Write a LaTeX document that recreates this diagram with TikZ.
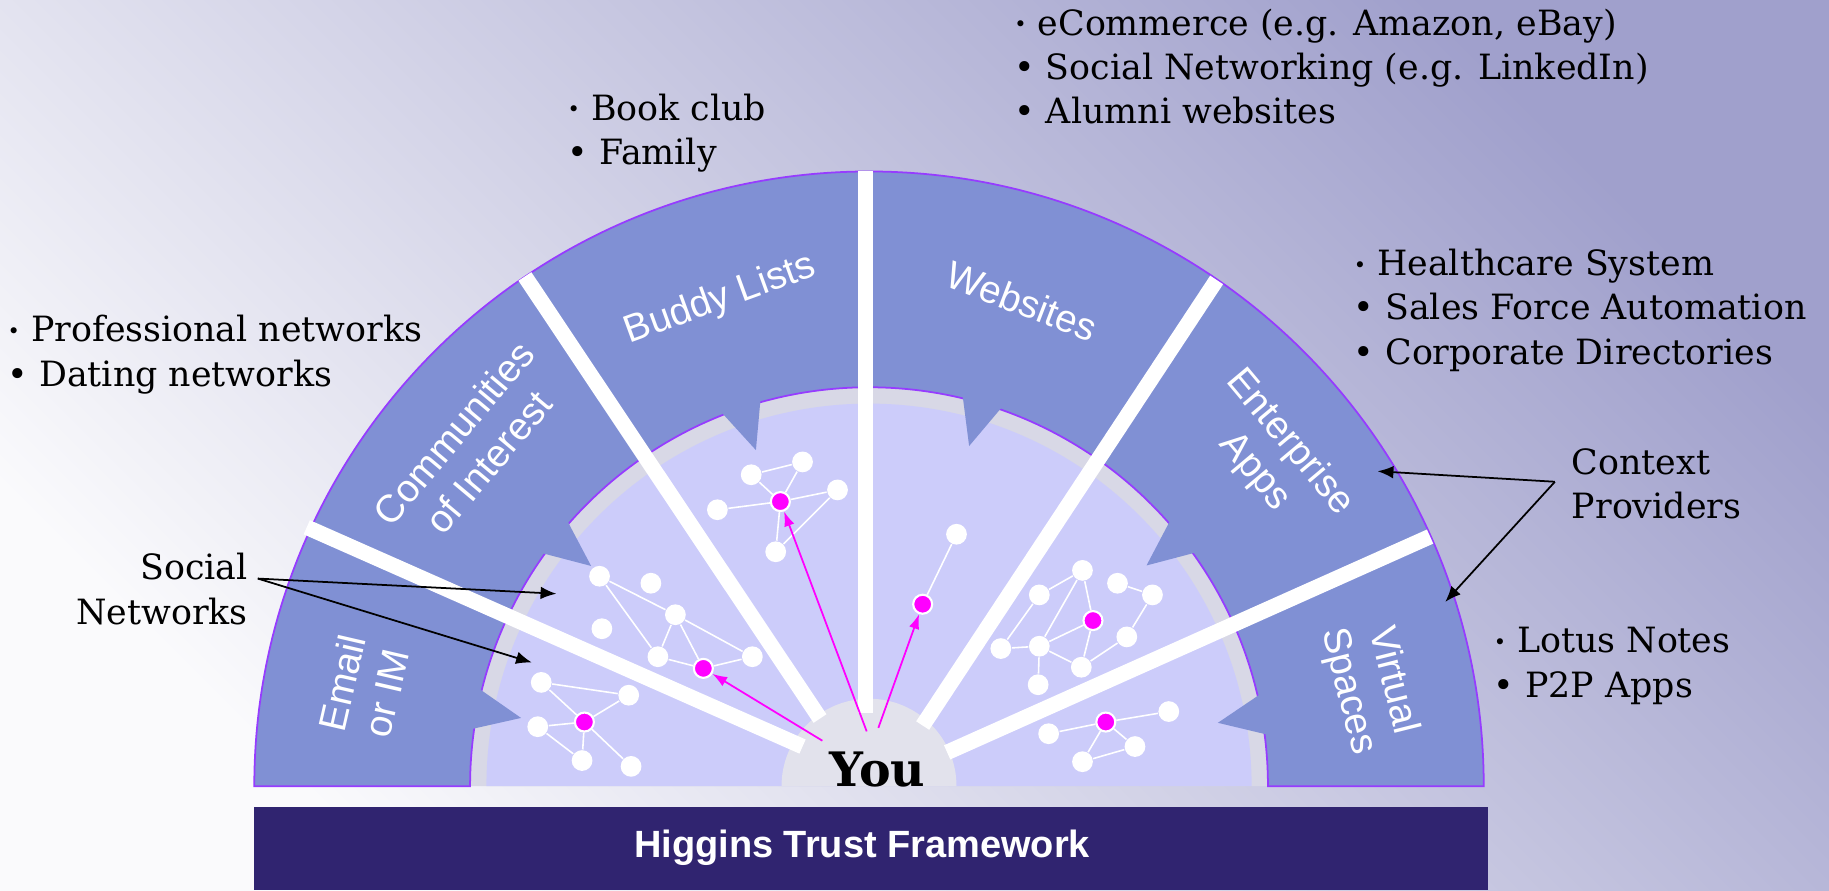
\documentclass[tikz,border=0pt]{standalone}
\usepackage{fontspec}
\setmainfont{DejaVu Serif}
\newfontfamily\labelfont{Liberation Sans}
\usepackage{graphicx}
\usepackage{tikz}
\usetikzlibrary{arrows.meta}
\definecolor{ringblue}{RGB}{128,144,212}
\definecolor{rimviolet}{RGB}{150,60,255}
\definecolor{lavender}{RGB}{204,204,250}
\definecolor{bandgray}{RGB}{216,216,230}
\definecolor{yougray}{RGB}{226,226,236}
\definecolor{barindigo}{RGB}{48,36,112}
\definecolor{bglight}{RGB}{250,250,252}
\definecolor{bgdark}{RGB}{160,160,204}
\definecolor{hubpink}{RGB}{255,0,255}
\newcommand{\fbul}{\raisebox{0.1em}{\scalebox{0.6}{\textbullet}}}
\newcommand{\bul}{\textbullet}

\begin{document}
\begin{tikzpicture}[x=0.011665cm,y=0.011665cm,>={Latex[length=4.5pt,width=3.6pt]}, white node/.style={circle,fill=white,minimum size=5.9pt,inner sep=0pt}, hub node/.style={circle,fill=hubpink,draw=white,line width=0.6pt,minimum size=5.4pt,inner sep=0pt}, link/.style={-,white,line width=0.45pt}, list/.style={anchor=west,inner sep=0pt,align=left,font=\fontsize{9.9pt}{12.6pt}\selectfont}, sector/.style={white,align=center,font=\labelfont\fontsize{11pt}{13pt}\selectfont}, divider/.style={white,line width=4.4pt}, you arrow/.style={->,hubpink,line width=0.5pt,>={Latex[length=4.2pt,width=3pt]}}, call arrow/.style={->,black,line width=0.5pt}]

  \useasboundingbox (0,0) rectangle (1568,763);
  \shade[top color=bgdark,bottom color=bglight,shading angle=-45] (0,0) rectangle (1568,763);

  \begin{scope}[shift={(745,89)}]
    \fill[bandgray] (0:342) arc[start angle=0,end angle=180,radius=342] -- cycle;
    \fill[lavender] (0:328) arc[start angle=0,end angle=180,radius=328] -- cycle;
    \fill[yougray] (0:75) arc[start angle=0,end angle=180,radius=75] -- cycle;
    \filldraw[fill=ringblue,draw=rimviolet,line width=0.5pt] (0:527) arc[start angle=0,end angle=180,radius=527] -- (180:342) arc[start angle=180,end angle=0,radius=342] -- cycle;
    \foreach \t in {168.9,141.6,108.6,73.6,38.5,10.3}
      \fill[ringblue] (\t+2.9:344) -- (\t:304) -- (\t-2.9:344) -- cycle;
    \foreach \ox/\oy/\ix/\iy in {-482/222/-57/34,-295/437/-42/58,-3/527/-3/63,298/434/46/52,481/214/67/29}
      \draw[divider] (\ox,\oy) -- (\ix,\iy);

    \node[sector,rotate=77] (email) at (169:441) {Email\\or IM};
    \node[sector,rotate=50] (interest) at (139.6:448) {Communities\\of Interest};
    \node[sector,rotate=20] (buddy) at (107:436) {Buddy Lists};
    \node[sector,rotate=-21] (websites) at (72.5:436) {Websites};
    \node[sector,rotate=-50] (enterprise) at (39.2:446) {Enterprise\\Apps};
    \node[sector,rotate=-76] (virtual) at (11.3:438) {Virtual\\Spaces};
  \end{scope}

  \node[anchor=base,font=\bfseries\fontsize{13.5pt}{16pt}\selectfont] (you) at (752,89) {You};

  \node[white node] (b1) at (644,356) {};
  \node[white node] (b2) at (688,367) {};
  \node[white node] (b3) at (615,326) {};
  \node[hub node] (bm) at (669,333) {};
  \node[white node] (b4) at (718,343) {};
  \node[white node] (b5) at (665,290) {};

  \node[white node] (c1) at (514,269) {};
  \node[white node] (c2) at (558,263) {};
  \node[white node] (c3) at (516,224) {};
  \node[white node] (c4) at (579,236) {};
  \node[white node] (c5) at (564,200) {};
  \node[hub node] (cm) at (603,190) {};
  \node[white node] (c6) at (645,200) {};

  \node[white node] (e1) at (464,178) {};
  \node[white node] (e2) at (539,167) {};
  \node[hub node] (em) at (501,144) {};
  \node[white node] (e3) at (461,140) {};
  \node[white node] (e4) at (499,111) {};
  \node[white node] (e5) at (541,106) {};

  \node[white node] (w1) at (820,305) {};
  \node[hub node] (wm) at (791,245) {};

  \node[white node] (p1) at (928,274) {};
  \node[white node] (p2) at (891,253) {};
  \node[white node] (p3) at (958,263) {};
  \node[white node] (p4) at (988,253) {};
  \node[hub node] (pm) at (937,231) {};
  \node[white node] (p5) at (858,207) {};
  \node[white node] (p6) at (891,209) {};
  \node[white node] (p7) at (966,217) {};
  \node[white node] (p8) at (927,191) {};
  \node[white node] (p9) at (890,176) {};

  \node[white node] (v1) at (899,134) {};
  \node[hub node] (vm) at (948,144) {};
  \node[white node] (v2) at (1002,153) {};
  \node[white node] (v3) at (973,123) {};
  \node[white node] (v4) at (928,110) {};

  \path[link]
       (b1) edge (b2) (b1) edge (bm) (b2) edge (bm) (b3) edge (bm)
       (bm) edge (b4) (b4) edge (b5) (bm) edge (b5)
       (c1) edge (c4) (c1) edge (c5) (c4) edge (c5) (c4) edge (cm)
       (c4) edge (c6) (c5) edge (cm) (cm) edge (c6)
       (e1) edge (e2) (e1) edge (em) (em) edge (e2) (em) edge (e3)
       (em) edge (e4) (em) edge (e5) (e3) edge (e4)
       (w1) edge (wm)
       (p1) edge (p2) (p1) edge (p6) (p1) edge (pm) (p2) edge (p5)
       (p5) edge (p6) (p6) edge (pm) (p6) edge (p8) (p6) edge (p9)
       (pm) edge (p8) (p3) edge (p4) (p4) edge (p7) (p7) edge (p8)
       (v1) edge (vm) (vm) edge (v2) (vm) edge (v3) (vm) edge (v4) (v3) edge (v4);

  \coordinate (yfrom1) at (705,128);
  \coordinate (yfrom2) at (743,136);
  \coordinate (yfrom3) at (753,139);
  \draw[you arrow] (yfrom1) -- (cm);
  \draw[you arrow] (yfrom2) -- (bm);
  \draw[you arrow] (yfrom3) -- (wm);

  \node[list,anchor=east,align=right] (social) at (213,258) {Social\\Networks};
  \coordinate (socfrom) at (221,267);
  \coordinate (socto1) at (477,254);
  \coordinate (socto2) at (456,195);
  \draw[call arrow] (socfrom) -- (socto1);
  \draw[call arrow] (socfrom) -- (socto2);

  \node[list] (context) at (1347,348) {Context\\Providers};
  \coordinate (ctxfrom) at (1333,350);
  \coordinate (ctxto1) at (1181,359);
  \coordinate (ctxto2) at (1239,247);
  \draw[call arrow] (ctxfrom) -- (ctxto1);
  \draw[call arrow] (ctxfrom) -- (ctxto2);

  \node[list] (profnet) at (6,459) {\fbul\ Professional networks\\\bul\ Dating networks};
  \node[list] (bookclub) at (486,649) {\fbul\ Book club\\\bul\ Family};
  \node[list] (commerce) at (869,706) {\fbul\ eCommerce (e.g. Amazon, eBay)\\\bul\ Social Networking (e.g. LinkedIn)\\\bul\ Alumni websites};
  \node[list] (health) at (1160,497) {\fbul\ Healthcare System\\\bul\ Sales Force Automation\\\bul\ Corporate Directories};
  \node[list] (lotus) at (1280,192) {\fbul\ Lotus Notes\\\bul\ P2P Apps};

  \fill[barindigo] (218,0) rectangle (1276,71);
  \node[white,font=\labelfont\bfseries\fontsize{10.8pt}{13pt}\selectfont] (htf) at (739,36) {Higgins Trust Framework};
\end{tikzpicture}
\end{document}
